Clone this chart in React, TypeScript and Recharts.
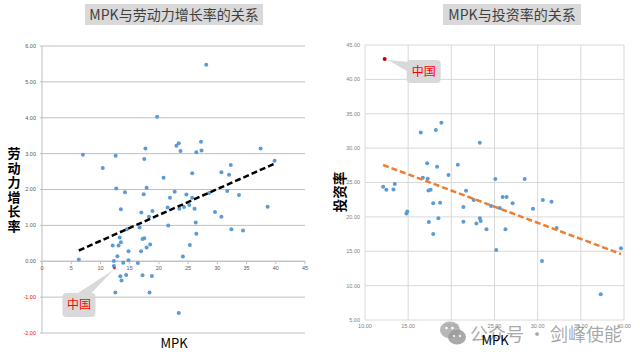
import { ScatterChart, Scatter, XAxis, YAxis, CartesianGrid, ReferenceLine, ReferenceDot } from "recharts";

// MPK vs labour growth (left chart)
const laborMpk = [
  7.0, 10.4, 12.6, 12.7, 14.2, 17.4, 17.5, 17.7, 17.9, 19.7, 6.3, 13.5, 12.1, 12.3, 12.3, 12.9, 13.1, 13.3, 13.5, 13.9,
  13.4, 13.6, 14.4, 12.55, 14.5, 14.8, 14.8, 16.4, 16.7, 16.95, 17.0, 17.2, 17.5, 17.2, 17.9, 18.3, 18.5, 18.9, 18.8, 18.4,
  28.1, 20.8, 21.9, 22.7, 23.0, 23.4, 23.7, 24.7, 25.7, 25.7, 26.4, 27.2, 27.3, 30.7, 32.0, 32.3, 31.7, 33.7, 37.4, 39.8,
  21.5, 21.6, 23.5, 24.3, 25.2, 26.1, 26.3, 26.4, 25.3, 24.1, 23.4, 28.6, 29.6, 30.7, 32.4, 34.4, 38.6
];
const laborGrowth = [
  2.97, 2.6, 2.94, 2.03, 1.92, 1.87, 2.85, 3.14, 2.05, 4.03, 0.05, 1.45, 0.44, 0.01, -0.13, 0.14, 0.44, 0.66, 0.53, -0.04,
  -0.42, -0.54, -0.38, -0.87, 0.89, 0.28, 0.03, -0.05, 0.94, 0.28, 1.36, 0.62, 0.64, -0.39, 0.38, 1.24, 0.47, 1.4, -0.41, -0.87,
  5.48, 2.33, 1.77, 1.94, 3.22, 3.29, 3.07, 1.86, 2.45, 1.77, 3.04, 3.33, 3.09, 2.48, 2.41, 2.68, 1.96, 1.85, 3.14, 2.8,
  1.5, 1.0, 1.46, 1.51, 1.57, 1.46, 1.08, 0.77, 0.45, 0.13, -1.44, 1.9, 1.37, 1.24, 0.89, 0.86, 1.52
];
const laborChina = { mpk: 12.4, value: -0.19 };
const laborTrendMpk = [6.3, 39.8];
const laborTrendValue = [0.3, 2.72];
const laborXTicks = [0, 5, 10, 15, 20, 25, 30, 35, 40, 45];
const laborYTicks = [-2, -1, 0, 1, 2, 3, 4, 5, 6];

// MPK vs investment rate (right chart)
const investMpk = [
  16.46, 18.2, 18.85, 17.2, 18.35, 20.75, 19.67, 16.7, 17.27, 12.1, 12.47, 13.3, 13.45, 17.35, 17.6, 21.7, 23.3, 14.8, 14.9, 17.9,
  18.7, 17.4, 18.5, 17.9, 21.4, 21.4, 22.6, 22.9, 23.3, 23.4, 25.1, 28.5, 25.95, 26.4, 30.6, 27.1, 24.6, 25.6, 29.45, 31.6,
  24.07, 26.27, 32.2, 25.2, 30.5, 37.3, 39.65
];
const investRate = [
  32.26, 32.65, 33.7, 27.8, 27.3, 27.6, 26.1, 25.7, 25.55, 24.4, 23.95, 24.0, 24.8, 23.85, 23.95, 23.8, 30.8, 20.5, 20.8, 22.0,
  22.05, 19.25, 19.8, 17.5, 21.45, 19.3, 22.45, 19.05, 19.8, 19.4, 25.5, 25.5, 22.9, 22.9, 22.45, 22.0, 21.6, 21.3, 21.2, 22.2,
  18.2, 18.2, 18.4, 15.2, 13.6, 8.75, 15.45
];
const investChina = { mpk: 12.28, value: 42.96 };
const investTrendMpk = [12.1, 39.65];
const investTrendValue = [27.55, 14.6];
const investXTicks = [10, 15, 20, 25, 30, 35, 40];
const investYTicks = [5, 10, 15, 20, 25, 30, 35, 40, 45];

const toPoints = (xs: number[], ys: number[]) => xs.map((x, i) => ({ mpk: x, value: ys[i] }));

const laborPoints = toPoints(laborMpk, laborGrowth);
const laborTrend = toPoints(laborTrendMpk, laborTrendValue);
const investPoints = toPoints(investMpk, investRate);
const investTrend = toPoints(investTrendMpk, investTrendValue);

const CJK = '"Noto Sans CJK SC", "Noto Sans", sans-serif';
const TICK_FONT = '"Liberation Sans", Arial, sans-serif';
const BLUE = "#5b9bd5";

const W = 320;
const H = 360;
const LEFT_MARGIN = { top: 46, right: 15, bottom: 7, left: 0 };
const LEFT_XAXIS_H = 20;
const LEFT_PLOT_H = H - LEFT_MARGIN.top - LEFT_MARGIN.bottom - LEFT_XAXIS_H;
// the left x axis crosses at y = 0, so tick labels are lifted up to that line
const ZERO_SHIFT = (LEFT_PLOT_H * (0 - laborYTicks[0])) / (laborYTicks[laborYTicks.length - 1] - laborYTicks[0]);

const dot = (color: string, r = 2) => (p: any) => <circle cx={p.cx} cy={p.cy} r={r} fill={color} />;
const noShape = () => <g />;

function ZeroAxisTick(props: any) {
  const { x, y, payload } = props;
  return (
    <g>
      <line x1={x} x2={x} y1={y - ZERO_SHIFT - 2} y2={y - ZERO_SHIFT + 1} stroke="#bfbfbf" />
      <text x={x} y={y - ZERO_SHIFT + 3} dy="0.71em" textAnchor="middle" fontSize={5.5} fill="#595959" fontFamily={TICK_FONT}>
        {payload.value}
      </text>
    </g>
  );
}

function GrowthTick(props: any) {
  const { x, y, payload } = props;
  const v = payload.value as number;
  return (
    <text x={x} y={y} dy="0.35em" textAnchor="end" fontSize={5.5} fill={v < 0 ? "#ff0000" : "#595959"} fontFamily={TICK_FONT}>
      {v.toFixed(2)}
    </text>
  );
}

function Callout({ cx, cy, dx, dy, w, h, wedge, dotColor, dotR }: any) {
  const bx = cx + dx;
  const by = cy + dy;
  return (
    <g>
      <polygon points={wedge.map((p: number[]) => `${cx + p[0]},${cy + p[1]}`).join(" ")} fill="#d9d9d9" />
      <rect x={bx} y={by} width={w} height={h} rx={4} fill="#d9d9d9" />
      <text x={bx + w / 2} y={by + h / 2} dy="0.36em" textAnchor="middle" fontSize={12} fill="#ff0000" fontFamily={CJK}>
        中国
      </text>
      <circle cx={cx} cy={cy} r={dotR} fill={dotColor} />
    </g>
  );
}

function TitleBox({ left, width, text }: { left: number; width: number; text: string }) {
  return (
    <div
      style={{
        position: "absolute",
        left,
        top: 4,
        width,
        height: 21,
        background: "#d9d9d9",
        color: "#404040",
        fontFamily: CJK,
        fontSize: 14,
        lineHeight: "21px",
        textAlign: "center"
      }}
    >
      {text}
    </div>
  );
}

export default function App() {
  return (
    <div style={{ position: "absolute", left: 0, top: 0, width: 640, height: 360, background: "#fff", overflow: "hidden" }}>
      <TitleBox left={85} width={178} text="MPK与劳动力增长率的关系" />
      <TitleBox left={443} width={138} text="MPK与投资率的关系" />

      <div style={{ position: "absolute", left: 0, top: 0 }}>
        <ScatterChart width={W} height={H} margin={LEFT_MARGIN}>
          <CartesianGrid vertical={false} stroke="#bfbfbf" />
          <XAxis
            type="number"
            dataKey="mpk"
            domain={[0, 45]}
            ticks={laborXTicks}
            height={LEFT_XAXIS_H}
            axisLine={false}
            tickLine={false}
            tickSize={0}
            tick={<ZeroAxisTick />}
            interval={0}
          />
          <YAxis
            type="number"
            dataKey="value"
            domain={[-2, 6]}
            ticks={laborYTicks}
            width={42}
            stroke="#bfbfbf"
            tickSize={2}
            tickMargin={4}
            tick={<GrowthTick />}
            interval={0}
          />
          <ReferenceLine y={0} stroke="#bfbfbf" />
          <Scatter data={laborPoints} shape={dot(BLUE)} isAnimationActive={false} />
          <Scatter
            data={laborTrend}
            shape={noShape}
            line={{ stroke: "#000", strokeWidth: 2.5, strokeDasharray: "6 3" }}
            isAnimationActive={false}
          />
          <ReferenceDot
            x={laborChina.mpk}
            y={laborChina.value}
            shape={(p: any) => (
              <Callout
                cx={p.cx}
                cy={p.cy}
                dx={-52}
                dy={25}
                w={33}
                h={24}
                wedge={[[-1, 2], [-38, 26], [-24, 26]]}
                dotColor="#e02020"
                dotR={1.4}
              />
            )}
          />
        </ScatterChart>
      </div>

      <div style={{ position: "absolute", left: 320, top: 0 }}>
        <ScatterChart width={W} height={H} margin={{ top: 45, right: 16, bottom: 20, left: 0 }}>
          <CartesianGrid stroke="#d9d9d9" />
          <XAxis
            type="number"
            dataKey="mpk"
            domain={[10, 40]}
            ticks={investXTicks}
            height={20}
            axisLine={false}
            tickLine={false}
            tickSize={0}
            tickMargin={4}
            tick={{ fontSize: 5.5, fill: "#7f7f7f", fontFamily: TICK_FONT }}
            tickFormatter={(v: number) => v.toFixed(2)}
            interval={0}
          />
          <YAxis
            type="number"
            dataKey="value"
            domain={[5, 45]}
            ticks={investYTicks}
            width={45}
            axisLine={false}
            tickLine={false}
            tickSize={0}
            tickMargin={5}
            tick={{ fontSize: 5.5, fill: "#7f7f7f", fontFamily: TICK_FONT }}
            tickFormatter={(v: number) => v.toFixed(2)}
            interval={0}
          />
          <Scatter data={investPoints} shape={dot(BLUE)} isAnimationActive={false} />
          <Scatter
            data={investTrend}
            shape={noShape}
            line={{ stroke: "#ed7d31", strokeWidth: 2.5, strokeDasharray: "6 3" }}
            isAnimationActive={false}
          />
          <ReferenceDot
            x={investChina.mpk}
            y={investChina.value}
            shape={(p: any) => (
              <Callout
                cx={p.cx}
                cy={p.cy}
                dx={22}
                dy={1}
                w={34}
                h={23}
                wedge={[[3, 1], [24, 3], [24, 13]]}
                dotColor="#c00000"
                dotR={2}
              />
            )}
          />
        </ScatterChart>
      </div>

      {/* axis titles */}
      <div style={{ position: "absolute", left: 7, top: 146, width: 14, fontFamily: CJK, fontSize: 13, fontWeight: 700, color: "#000", lineHeight: "14.5px", textAlign: "center" }}>
        {"劳动力增长率".split("").map((c) => (
          <div key={c}>{c}</div>
        ))}
      </div>
      <div style={{ position: "absolute", left: 152, top: 333, width: 44, textAlign: "center", fontFamily: CJK, fontSize: 13, color: "#000" }}>MPK</div>
      <div
        style={{
          position: "absolute",
          left: 318,
          top: 182,
          width: 42,
          height: 20,
          lineHeight: "20px",
          textAlign: "center",
          fontFamily: CJK,
          fontSize: 13.5,
          fontWeight: 700,
          color: "#000",
          transform: "rotate(-90deg)"
        }}
      >
        投资率
      </div>

      {/* watermark */}
      <svg style={{ position: "absolute", left: 438, top: 320 }} width={30} height={26}>
        <ellipse cx={12} cy={10} rx={10} ry={8.5} fill="#a6a6a6" opacity={0.8} />
        <ellipse cx={19} cy={17} rx={9} ry={7.5} fill="#9a9a9a" opacity={0.85} />
        <circle cx={8.5} cy={8} r={1.3} fill="#fff" />
        <circle cx={14.5} cy={8} r={1.3} fill="#fff" />
        <circle cx={16} cy={16} r={1.1} fill="#fff" />
        <circle cx={22} cy={16} r={1.1} fill="#fff" />
      </svg>
      <div
        style={{
          position: "absolute",
          left: 470,
          top: 320,
          fontFamily: CJK,
          fontSize: 18,
          color: "rgba(140,140,140,0.75)",
          whiteSpace: "nowrap"
        }}
      >
        公众号 · 剑峰使能
      </div>
      <div style={{ position: "absolute", left: 473, top: 330, width: 44, textAlign: "center", fontFamily: CJK, fontSize: 13, color: "#000" }}>MPK</div>
    </div>
  );
}
